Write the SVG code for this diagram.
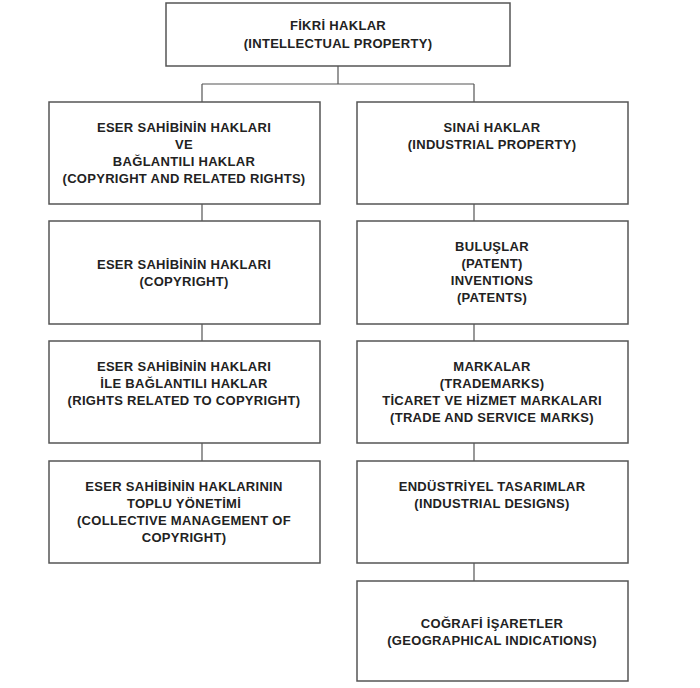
<svg xmlns="http://www.w3.org/2000/svg" width="700" height="688" viewBox="0 0 700 688">
<style>
.b{fill:#fff;stroke:#555;stroke-width:1.5}
.t{font-family:"Liberation Sans",Arial,sans-serif;font-weight:bold;font-size:13px;letter-spacing:0.3px;fill:#222;text-anchor:middle}
.c{stroke:#555;stroke-width:1.2;fill:none}
</style>
<rect width="700" height="688" fill="#fff"/>
<g id="connectors" class="c">
<path d="M338 66V84M202 84H474M202 84V102M474 84V102"/>
<path d="M202 204V221M202 324V341M202 443V461"/>
<path d="M474 204V221M474 324V341M474 443V461M474 563V581"/>
</g>
<g id="n0"><rect class="b" x="166" y="3" width="344" height="63"/><text class="t" x="338" y="30">FİKRİ HAKLAR</text><text class="t" x="338" y="48">(INTELLECTUAL PROPERTY)</text></g>
<g id="n1"><rect class="b" x="49" y="102" width="271" height="102"/><text class="t" x="184" y="132">ESER SAHİBİNİN HAKLARI</text><text class="t" x="184" y="149">VE</text><text class="t" x="184" y="166">BAĞLANTILI HAKLAR</text><text class="t" x="184" y="183">(COPYRIGHT AND RELATED RIGHTS)</text></g>
<g id="n2"><rect class="b" x="357" y="102" width="271" height="102"/><text class="t" x="492" y="132">SINAİ HAKLAR</text><text class="t" x="492" y="149">(INDUSTRIAL PROPERTY)</text></g>
<g id="n3"><rect class="b" x="49" y="221" width="271" height="103"/><text class="t" x="184" y="269">ESER SAHİBİNİN HAKLARI</text><text class="t" x="184" y="286">(COPYRIGHT)</text></g>
<g id="n4"><rect class="b" x="357" y="221" width="271" height="103"/><text class="t" x="492" y="251">BULUŞLAR</text><text class="t" x="492" y="268">(PATENT)</text><text class="t" x="492" y="285">INVENTIONS</text><text class="t" x="492" y="302">(PATENTS)</text></g>
<g id="n5"><rect class="b" x="49" y="341" width="271" height="102"/><text class="t" x="184" y="371">ESER SAHİBİNİN HAKLARI</text><text class="t" x="184" y="388">İLE BAĞLANTILI HAKLAR</text><text class="t" x="184" y="405">(RIGHTS RELATED TO COPYRIGHT)</text></g>
<g id="n6"><rect class="b" x="357" y="341" width="271" height="102"/><text class="t" x="492" y="371">MARKALAR</text><text class="t" x="492" y="388">(TRADEMARKS)</text><text class="t" x="492" y="405">TİCARET VE HİZMET MARKALARI</text><text class="t" x="492" y="422">(TRADE AND SERVICE MARKS)</text></g>
<g id="n7"><rect class="b" x="49" y="461" width="271" height="102"/><text class="t" x="184" y="491">ESER SAHİBİNİN HAKLARININ</text><text class="t" x="184" y="508">TOPLU YÖNETİMİ</text><text class="t" x="184" y="525">(COLLECTIVE MANAGEMENT OF</text><text class="t" x="184" y="542">COPYRIGHT)</text></g>
<g id="n8"><rect class="b" x="357" y="461" width="271" height="102"/><text class="t" x="492" y="491">ENDÜSTRİYEL TASARIMLAR</text><text class="t" x="492" y="508">(INDUSTRIAL DESIGNS)</text></g>
<g id="n9"><rect class="b" x="357" y="581" width="271" height="100"/><text class="t" x="492" y="628">COĞRAFİ İŞARETLER</text><text class="t" x="492" y="645">(GEOGRAPHICAL INDICATIONS)</text></g>
</svg>
